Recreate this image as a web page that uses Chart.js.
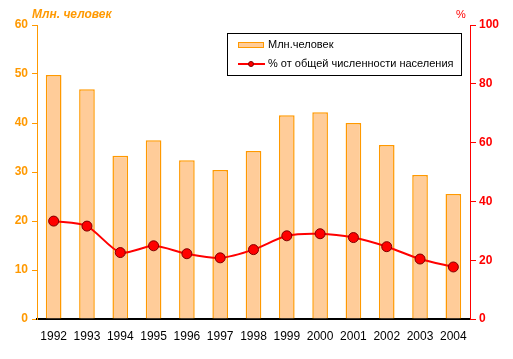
<!DOCTYPE html>
<html>
<head>
<meta charset="utf-8">
<script src="https://cdn.jsdelivr.net/npm/chart.js@4"></script>
<style>
  html, body { margin: 0; padding: 0; background: #fff; }
  #wrap { position: relative; width: 513px; height: 359px; }
</style>
</head>
<body>
<div id="wrap"><canvas id="chart" width="513" height="359"></canvas></div>
<script>
// Data
const years = ['1992', '1993', '1994', '1995', '1996', '1997', '1998', '1999', '2000', '2001', '2002', '2003', '2004'];
const millions = [49.8, 46.9, 33.3, 36.5, 32.4, 30.4, 34.3, 41.6, 42.2, 40.0, 35.5, 29.4, 25.5];
const percentOfPopulation = [33.3, 31.6, 22.6, 24.9, 22.2, 20.8, 23.6, 28.3, 29.0, 27.7, 24.6, 20.4, 17.7];

const leftTitle = 'Млн. человек';
const rightTitle = '%';
const barLabel = 'Млн.человек';
const lineLabel = '% от общей численности населения';

const ORANGE = '#FF9900';
const RED = '#FF0000';
const FONT = 'Arial, "Liberation Sans", sans-serif';

// axis titles + boxed legend
const extras = {
    id: 'extras',
    afterDraw(chart) {
        const c = chart.ctx;
        c.save();
        c.textBaseline = 'middle';
        c.font = 'italic bold 12px ' + FONT;
        c.fillStyle = ORANGE;
        c.textAlign = 'left';
        c.fillText(leftTitle, 32, 15);
        c.font = '11px ' + FONT;
        c.fillStyle = RED;
        c.fillText(rightTitle, 456, 15);

        // legend box
        c.fillStyle = '#fff';
        c.fillRect(228, 34, 233, 41);
        c.strokeStyle = '#000';
        c.lineWidth = 1;
        c.strokeRect(227.5, 33.5, 234, 42);

        c.fillStyle = '#FFCC99';
        c.fillRect(238, 42, 26, 6);
        c.strokeStyle = ORANGE;
        c.strokeRect(238.5, 42.5, 25, 5);

        c.strokeStyle = RED;
        c.lineWidth = 2;
        c.beginPath();
        c.moveTo(238, 64);
        c.lineTo(265, 64);
        c.stroke();
        c.fillStyle = RED;
        c.strokeStyle = '#800000';
        c.lineWidth = 1;
        c.beginPath();
        c.arc(251, 64, 2.5, 0, Math.PI * 2);
        c.fill();
        c.stroke();

        c.fillStyle = '#000';
        c.font = '11px ' + FONT;
        c.fillText(barLabel, 268, 45);
        c.fillText(lineLabel, 268, 64);
        c.restore();
    }
};

new Chart(document.getElementById('chart'), {
    data: {
        labels: years,
        datasets: [{
            type: 'line',
            label: lineLabel,
            data: percentOfPopulation,
            yAxisID: 'yRight',
            borderColor: RED,
            borderWidth: 2,
            tension: 0.25,
            pointRadius: 5,
            pointBackgroundColor: RED,
            pointBorderColor: '#800000',
            pointBorderWidth: 1,
            order: 0
        }, {
            type: 'bar',
            label: barLabel,
            data: millions,
            yAxisID: 'yLeft',
            backgroundColor: '#FFCC99',
            borderColor: ORANGE,
            borderWidth: 1.5,
            categoryPercentage: 1,
            barPercentage: 0.47,
            order: 1
        }]
    },
    options: {
        responsive: false,
        animation: false,
        layout: { padding: { top: 25, left: 0, right: 0, bottom: 0 } },
        plugins: { legend: { display: false }, tooltip: { enabled: false } },
        scales: {
            x: {
                grid: { display: false },
                border: { color: '#000', width: 2 },
                ticks: { color: '#000', font: { family: FONT, size: 12 }, padding: 2, maxRotation: 0 },
                afterFit(s) { s.height = 40; }
            },
            yLeft: {
                position: 'left',
                min: 0, max: 60,
                ticks: { stepSize: 10, color: ORANGE, font: { family: FONT, size: 12, weight: 'bold' }, padding: 4 },
                grid: { drawOnChartArea: false, color: ORANGE, tickLength: 5 },
                border: { color: ORANGE, width: 1 },
                afterFit(s) { s.width = 37; }
            },
            yRight: {
                position: 'right',
                min: 0, max: 100,
                ticks: { stepSize: 20, color: RED, font: { family: FONT, size: 12, weight: 'bold' }, padding: 3 },
                grid: { drawOnChartArea: false, color: RED, tickLength: 6 },
                border: { color: RED, width: 1 },
                afterFit(s) { s.width = 43; }
            }
        }
    },
    plugins: [extras]
});
</script>
</body>
</html>
